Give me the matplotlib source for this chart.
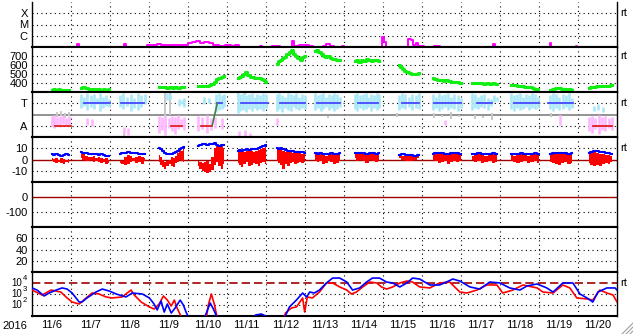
import numpy as np
import matplotlib
matplotlib.use('Agg')
import matplotlib.pyplot as plt
from matplotlib.lines import Line2D

plt.rcParams['font.family'] = ['Liberation Sans', 'DejaVu Sans']

# time axis: days since 11/6 00:00
day_labels = ['11/%d' % d for d in range(6, 21)]

# --- X-ray flux (W/m2), step series
xray_t = [0.0, 1.14, 1.16, 1.2, 2.35, 2.37, 2.4, 2.95, 3.1, 3.2, 3.3, 3.45, 3.6, 3.8, 3.95,
          4.0, 4.1, 4.2, 4.3, 4.4, 4.55, 4.65, 4.8, 4.95, 5.1, 5.2, 5.3, 5.85, 5.9, 6.15,
          6.35, 6.63, 6.67, 6.72, 6.85, 7.1, 7.2, 7.45, 7.55, 7.65, 7.75, 7.95, 8.0, 8.97,
          9.02, 9.07, 9.65, 9.72, 9.78, 9.85, 9.9, 10.05, 10.3, 10.45, 11.82, 11.86, 12.33,
          12.36, 13.28, 13.31, 13.95, 13.98, 15.0]
xray_v = [0.5, 0.5, 1.85, 0.5, 0.5, 1.7, 0.5, 1.5, 1.4, 2.0, 1.6, 1.5, 1.4, 1.5, 1.4,
          2.4, 2.6, 3.2, 2.5, 2.7, 2.2, 1.6, 1.3, 1.5, 1.3, 1.4, 0.5, 1.3, 0.5, 1.2,
          0.5, 0.5, 3.4, 1.3, 1.4, 1.2, 0.5, 1.3, 1.8, 1.2, 0.5, 1.2, 0.5, 7.7,
          3.0, 0.5, 5.1, 4.0, 1.5, 2.2, 1.2, 1.1, 1.15, 0.5, 1.85, 0.5, 1.1,
          0.5, 2.3, 0.5, 1.2, 0.5, 0.5]  # x 1e-7

# --- solar wind speed (km/s), one list per data block
wind_seg = [(0.5, 0.95), (1.26, 1.98), (3.26, 3.9), (4.26, 4.93), (5.27, 6.0), (6.27, 7.0),
            (7.26, 7.89), (8.27, 8.91), (9.4, 9.92), (10.28, 10.99), (11.28, 11.92),
            (12.28, 12.97), (13.28, 13.85), (14.28, 14.87)]
wind_v = [
    [325, 330, 322, 328, 320, 325, 318, 322],
    [348, 352, 345, 335, 330, 332, 328, 330, 326, 329, 325, 330],
    [355, 350, 352, 348, 350, 345, 350, 348, 352, 350],
    [365, 362, 368, 365, 370, 375, 390, 410, 440, 450, 470, 480],
    [460, 470, 480, 500, 520, 490, 470, 465, 460, 450, 455, 445, 430, 415],
    [615, 640, 650, 680, 690, 720, 740, 770, 720, 700, 680, 660, 690, 700],
    [760, 770, 740, 720, 700, 690, 700, 680, 670, 665, 650, 660],
    [640, 650, 630, 660, 640, 670, 650, 640, 660, 650, 640],
    [600, 580, 560, 530, 520, 510, 505, 500, 500, 510],
    [450, 440, 435, 430, 425, 430, 420, 415, 410, 412, 405],
    [405, 400, 395, 400, 392, 398, 390, 395, 388],
    [380, 378, 375, 370, 365, 362, 358, 355, 352, 340, 335, 330],
    [325, 330, 340, 345, 335, 330, 328, 325],
    [340, 350, 360, 365, 370, 362, 368, 372, 375],
]

# --- IMF sector (A=1, T=3): columns (t0, t1, hi, lo)
ta_lightblue = [
    (1.26, 1.98, [3.8, 3.6, 3.9, 3.7, 3.8, 3.5, 3.9, 3.6, 3.7, 3.4], [2.6, 2.8, 2.4, 2.7, 2.5, 2.9, 2.3, 2.6, 2.8, 2.7]),
    (2.25, 2.9, [3.7, 3.9, 3.6, 3.8, 3.5, 3.9, 3.7, 3.8], [2.7, 2.5, 2.8, 2.3, 2.6, 2.4, 2.7, 2.9]),
    (3.47, 3.55, [3.9, 3.8], [3.3, 3.4]),
    (3.78, 3.9, [3.4, 3.3, 3.5], [2.8, 2.9, 2.7]),
    (4.4, 4.55, [3.6, 3.5], [2.9, 3.0]),
    (4.72, 4.93, [3.8, 3.9, 3.7, 3.8], [2.2, 2.4, 2.5, 2.7]),
    (5.27, 6.0, [3.9, 3.8, 3.9, 3.7, 3.8, 3.9, 3.6, 3.8, 3.7, 3.9, 3.8], [2.1, 2.3, 2.4, 2.2, 2.5, 2.3, 2.6, 2.4, 2.5, 2.3, 2.6]),
    (6.27, 7.0, [3.8, 3.9, 3.7, 3.6, 3.9, 3.8, 3.7, 3.9, 3.6, 3.8, 3.7], [2.3, 2.5, 2.2, 2.6, 2.4, 2.3, 2.7, 2.5, 2.4, 2.6, 2.5]),
    (7.26, 7.89, [3.9, 3.7, 3.8, 3.9, 3.6, 3.8, 3.7, 3.9, 3.8, 3.6], [2.4, 2.6, 2.3, 2.5, 2.7, 2.4, 2.6, 2.3, 2.5, 2.7]),
    (8.27, 8.91, [3.8, 3.9, 3.7, 3.8, 3.9, 3.6, 3.8, 3.7, 3.9, 3.8], [2.5, 2.3, 2.6, 2.4, 2.5, 2.7, 2.3, 2.6, 2.4, 2.6]),
    (9.4, 9.92, [3.7, 3.9, 3.8, 3.6, 3.8, 3.7, 3.9], [2.4, 2.6, 2.5, 2.7, 2.4, 2.6, 2.5]),
    (10.28, 10.99, [3.8, 3.6, 3.9, 3.7, 3.8, 3.9, 3.6, 3.8, 3.7, 3.5], [2.4, 2.6, 2.3, 2.5, 2.7, 2.4, 2.6, 2.5, 2.3, 2.6]),
    (11.28, 11.92, [3.9, 3.8, 3.6, 3.7, 3.8, 3.5, 3.4, 3.7, 3.6], [2.4, 2.6, 2.5, 2.7, 2.6, 2.4, 2.8, 3.1, 3.2]),
    (12.28, 12.97, [3.9, 3.7, 3.8, 3.9, 3.6, 3.8, 3.7, 3.9, 3.8, 3.6], [2.5, 2.3, 2.6, 2.4, 2.5, 2.7, 2.4, 2.6, 2.5, 2.6]),
    (13.28, 13.85, [3.7, 3.9, 3.8, 3.6, 3.8, 3.7, 3.9, 3.5], [2.5, 2.3, 2.6, 2.4, 2.5, 2.7, 2.4, 2.6]),
    (14.4, 14.65, [2.8, 2.9, 2.7], [2.3, 2.4, 2.2]),
]
ta_pink = [
    (0.5, 0.95, [1.9, 2.0, 1.8, 1.9, 2.0, 1.7, 1.9], [1.0, 0.8, 1.1, 0.9, 1.2, 1.0, 1.1]),
    (1.4, 1.55, [1.7, 1.6], [1.1, 1.0]),
    (2.35, 2.45, [0.9, 0.8], [0.3, 0.2]),
    (3.26, 3.9, [1.9, 1.8, 2.0, 1.7, 1.9, 1.8, 2.0, 1.6, 1.8], [0.4, 0.6, 0.2, 0.8, 0.5, 0.3, 0.7, 0.9, 0.6]),
    (4.26, 4.7, [1.9, 1.8, 2.0, 1.7, 1.8], [0.5, 0.7, 0.4, 0.6, 0.8]),
    (4.88, 4.93, [1.7], [0.7]),
    (5.3, 5.6, [0.5, 0.6, 0.4], [0.0, 0.1, 0.0]),
    (6.27, 6.32, [1.7], [1.1]),
    (10.6, 10.65, [1.5], [1.1]),
    (13.55, 13.6, [2.0], [1.1]),
    (14.28, 14.87, [1.8, 1.9, 1.7, 2.0, 1.8, 1.9, 1.7, 1.8], [0.5, 0.4, 0.7, 0.3, 0.6, 0.5, 0.8, 0.6]),
]
ta_gray = [
    (0.65, 0.95, [2.2, 2.3, 2.1, 2.2], [1.8, 1.9, 1.7, 1.9]),
    (3.4, 3.55, [4.0, 3.9], [1.8, 2.0]),
    (2.35, 2.4, [0.6], [0.0]),
    (5.27, 5.45, [3.9, 4.0], [3.6, 3.7]),
    (7.6, 7.65, [1.9], [1.7]),
    (9.35, 9.4, [2.1], [1.8]),
    (10.3, 10.95, [2.1, 2.0, 2.2, 2.0], [1.7, 1.8, 1.6, 1.8]),
    (11.35, 11.8, [2.0, 1.9, 2.1], [1.6, 1.7, 1.5]),
    (12.85, 12.9, [3.5], [3.2]),
    (13.3, 13.55, [2.1, 2.0], [1.8, 1.9]),
]
toward_runs = [(1.34, 2.0), (2.29, 2.88), (4.75, 4.88), (5.37, 6.04), (6.37, 7.0), (7.32, 7.89),
               (8.35, 8.86), (9.48, 9.92), (10.3, 10.99), (11.4, 11.79), (12.36, 13.0), (13.23, 13.87)]
away_runs = [(0.59, 1.0), (3.57, 3.85), (4.34, 4.62), (14.38, 14.88)]
switch_t = [4.62, 4.75]
switch_v = [1, 3]

# --- IMF Bt (blue) and Bz range (red), nT
bz_seg = [(0.5, 0.95), (1.26, 1.98), (2.25, 2.9), (3.26, 3.9), (4.26, 4.93), (5.27, 6.0),
          (6.27, 7.0), (7.26, 7.9), (8.27, 8.91), (9.4, 9.92), (10.28, 10.99), (11.28, 11.92),
          (12.28, 13.0), (13.28, 13.85), (14.28, 14.87)]
bt_v = [
    [4.5, 4, 4.5, 4, 3.5, 4, 4.5, 4],
    [6.5, 6, 5.5, 5, 4.5, 5, 4.5, 4, 4.5, 4, 3.5, 3],
    [5, 5.5, 6, 7, 6, 5.5, 6, 5, 4.5, 5],
    [10, 9, 8, 6, 5, 4.5, 5, 6, 7, 8, 9, 10, 11],
    [12, 13, 13.5, 14, 13, 13.5, 14, 14.5, 13, 12, 13, 12.5],
    [8, 8.5, 8, 8.5, 9, 8.5, 9, 9, 9.5, 10, 11, 12, 13],
    [10, 9.5, 10, 9, 8.5, 8, 8, 7.5, 7, 7, 6.5, 6.5, 6],
    [5.5, 5, 5.5, 5, 4.5, 5, 5.5, 5, 5, 5.5],
    [6, 5.5, 6, 5.5, 5, 6, 5.5, 5, 5.5],
    [4, 4.5, 4, 4, 3.5, 4],
    [5, 5.5, 6, 5.5, 5, 5, 5.5, 6, 5.5, 5],
    [4.5, 5, 5.5, 5, 4.5, 5, 5.5, 5],
    [5, 4.5, 5, 5.5, 5, 4.5, 5, 5.5, 5],
    [5, 5.5, 6, 5.5, 6, 5.5, 5, 5.5],
    [6, 7, 8, 7.5, 7, 6.5, 6, 5.5, 5],
]
bz_hi = [
    [1, 0.5, 1, 0, 1, 0.5, 0, 0.5],
    [5, 4.5, 3, 2, 2, 3, 1.5, 2, 1, 0.5, 1, 0],
    [0, -1, 2, 4, 3, 1, 2, 3, 2, 1],
    [4, 2, 0, -2, -1, 0, 2, 1, 3, 6, 10, 8, 9],
    [-1, -2, -3, -2, -1, -4, 2, 10, 13, 11, 12, 10],
    [7, 7.5, 7, 7, 8, 7.5, 8, 7, 8, 8.5, 9, 10, 11],
    [9, 8.5, 9, 8, 7, 7, 6.5, 6, 6, 5.5, 5.5, 5, 5],
    [4.5, 4, 4.5, 4, 3.5, 4, 4.5, 4, 4, 4.5],
    [5, 4.5, 5, 4.5, 4, 5, 4.5, 4, 4.5],
    [3, 3.5, 3, 3, 2.5, 3],
    [4, 4.5, 5, 4.5, 4, 4, 4.5, 5, 4.5, 4],
    [3.5, 4, 4.5, 4, 3.5, 4, 4.5, 4],
    [4, 3.5, 4, 4.5, 4, 3.5, 4, 4.5, 4],
    [4, 4.5, 5, 4.5, 5, 4.5, 4, 4.5],
    [5, 6, 7, 6, 5, 5, 4, 4, 3],
]
bz_lo = [
    [-1, -2, -3, -2, -3, -4, -2, -3],
    [1, 0, -1, -1, -0.5, -2, -1, -2, -3, -2, -4, -3],
    [-3, -4, -5, -4, -2, -1, -3, -2, -4, -1],
    [-2, -5, -7, -8, -6, -4, -6, -7, -3, -2, 0, -1, -2],
    [-6, -8, -10, -11, -12, -11, -9, -5, -2, -6, -8, -4],
    [-3, -5, -7, -4, -2, -6, -5, -3, -4, -6, -3, -2, -4],
    [-1, -3, -5, -8, -4, -6, -3, -2, -4, -3, -2, -3, -2],
    [-1, -2, -1, -4, -3, -1, -2, -4, -3, -1],
    [1, -1, 0, -1.5, -3, 0, -1, -2, 0],
    [1, 0, -1, -1.5, 0, 1],
    [0, -1, -3, -2, -1, -4, -2, -1, -2, -1],
    [0, -2, -1, -3, -2, -1, -3, -2],
    [-1, -2, -3, -2, -1, -3, -2, -1, -3],
    [-2, -3, -4, -5, -3, -2, -4, -3],
    [-3, -5, -6, -5, -6, -4, -3, -4, -2],
]

# --- electron flux, log10
e_blue_t = [0.0, 0.13, 0.31, 0.44, 0.62, 0.77, 0.90, 1.03, 1.21, 1.28, 1.41, 1.64, 1.80, 1.98, 2.16,
            2.41, 2.57, 2.83, 3.01, 3.13, 3.21, 3.31, 3.39, 3.47, 3.57, 3.67, 3.80, 3.88, 3.96, 4.03,
            4.42, 4.50, 4.57, 4.65, 4.73, 4.78, 5.68, 5.73, 5.88, 5.99, 6.04, 6.47, 6.60, 6.78, 6.94,
            7.04, 7.12, 7.24, 7.37, 7.55, 7.71, 7.89, 8.07, 8.22, 8.40, 8.58, 8.73, 8.91, 9.09, 9.25,
            9.43, 9.61, 9.76, 9.94, 10.20, 10.45, 10.63, 10.79, 10.97, 11.23, 11.48, 11.74, 12.00,
            12.25, 12.51, 12.69, 12.95, 13.20, 13.36, 13.61, 13.87, 14.05, 14.23, 14.38, 14.51, 14.74,
            14.95, 15.0]
e_blue_log = [3.55, 3.36, 2.82, 3.09, 3.36, 3.55, 3.45, 3.09, 2.27, 2.27, 2.64, 3.18, 3.45, 3.27, 3.0,
              2.73, 3.09, 3.0, 2.64, 2.09, 1.55, 2.36, 1.36, 2.09, 1.27, 1.73, 2.45, 2.0, 1.27, 0.8,
              0.8, 1.55, 2.18, 1.64, 1.0, 0.8, 0.8, 1.09, 1.18, 1.0, 0.8, 0.8, 1.82, 2.45, 3.09,
              2.73, 3.18, 3.09, 3.36, 4.0, 4.45, 4.45, 4.09, 3.36, 3.55, 4.09, 4.45, 4.45, 4.09, 4.0,
              3.64, 4.0, 4.45, 4.36, 3.82, 3.82, 4.09, 4.36, 4.18, 3.64, 3.45, 4.09, 4.0,
              3.55, 3.36, 3.73, 3.91, 3.55, 3.18, 4.0, 4.0, 3.0, 2.64, 2.27, 3.18, 3.55,
              3.55, 3.36]
e_red_t = [0.0, 0.26, 0.49, 0.74, 0.90, 1.03, 1.21, 1.39, 1.54, 1.72, 1.90, 2.05, 2.31, 2.54, 2.62,
           2.80, 3.01, 3.13, 3.26, 3.37, 3.47, 3.57, 3.65, 3.72, 3.83, 4.47, 4.52, 4.60, 4.68, 4.75,
           6.45, 6.50, 6.65, 6.78, 6.94, 6.99, 7.06, 7.19, 7.37, 7.55, 7.71, 7.89, 8.07, 8.19, 8.32,
           8.48, 8.66, 8.84, 8.96, 9.09, 9.25, 9.43, 9.61, 9.76, 9.94, 10.20, 10.45, 10.71, 10.97,
           11.15, 11.41, 11.66, 11.92, 12.07, 12.33, 12.59, 12.95, 13.10, 13.36, 13.61, 13.79, 13.97,
           14.23, 14.38, 14.56, 14.74, 14.90, 15.0]
e_red_log = [3.36, 2.91, 3.36, 3.18, 2.64, 2.27, 2.09, 2.64, 3.09, 3.0, 2.73, 2.64, 2.73, 3.36, 2.91,
             2.27, 1.82, 1.64, 2.09, 2.82, 2.45, 1.91, 2.45, 1.73, 0.9, 0.8, 2.0, 3.0, 2.0, 0.8,
             0.8, 1.27, 1.73, 1.82, 2.64, 1.36, 2.73, 2.64, 3.18, 4.0, 4.0, 3.64, 3.36, 3.0, 3.18,
             3.64, 4.09, 4.0, 3.64, 3.45, 3.64, 4.0, 4.18, 4.09, 3.64, 3.55, 4.0, 4.09, 3.18,
             3.09, 3.36, 3.82, 3.82, 3.09, 3.36, 3.82, 3.55, 3.18, 3.09, 3.82, 3.55, 2.64,
             2.55, 2.45, 3.36, 3.09, 2.91, 2.27]
e_ticks = [1e2, 1e3, 1e4]
e_exps = ['2', '3', '4']

W, H = 633, 334
fig = plt.figure(figsize=(W / 100, H / 100), dpi=100)
edges = [2, 47, 92, 137, 182, 227, 272, 316]
dot = (0, (1, 3))

axes = []
for i in range(7):
    top, bot = edges[i], edges[i + 1]
    ax = fig.add_axes([32 / W, 1 - bot / H, 585 / W, (bot - top) / H])
    ax.set_xlim(0, 15)
    ax.set_xticks([])
    for d in range(1, 15):
        ax.axvline(d, color='k', ls=dot, lw=0.8, zorder=1)
    for s in ['left', 'right']:
        ax.spines[s].set_linewidth(1)
    for s in ['top', 'bottom']:
        ax.spines[s].set_linewidth(1.5)
    ax.tick_params(axis='y', length=0, pad=3, labelsize=8)
    axes.append(ax)
axes[0].spines['top'].set_visible(False)


def hgrid(ax, vals):
    for v in vals:
        ax.axhline(v, color='k', ls=dot, lw=0.8, zorder=1)


def columns(ax, runs, color, lw=1.9):
    for t0, t1, hi, lo in runs:
        ax.vlines(np.linspace(t0, t1, len(hi)), lo, hi, color=color, lw=lw, zorder=2)


# panel 1: X-ray
ax = axes[0]
ax.set_yscale('log')
ax.set_ylim(1e-7, 1e-3)
ax.set_yticks([1e-6, 1e-5, 1e-4], ['C', 'M', 'X'])
ax.minorticks_off()
hgrid(ax, [1e-6, 1e-5, 1e-4])
ax.step(xray_t, np.array(xray_v) * 1e-7, where='post', color='#ff00ff', lw=1.4, zorder=3)

# panel 2: wind speed
ax = axes[1]
ax.set_ylim(300, 800)
ax.set_yticks([400, 500, 600, 700], ['400', '500', '600', '700'])
hgrid(ax, [400, 500, 600, 700])
for (t0, t1), v in zip(wind_seg, wind_v):
    ax.plot(np.linspace(t0, t1, len(v)), v, color='#11ee11', lw=2.2, drawstyle='steps-mid', zorder=3)

# panel 3: sector
ax = axes[2]
ax.set_ylim(0, 4)
ax.set_yticks([1, 3], ['A', 'T'])
hgrid(ax, [1, 3])
ax.axhline(2, color='#808080', lw=1.2, zorder=1)
columns(ax, ta_gray, '#c8c8c8', lw=1.4)
columns(ax, ta_pink, '#ffb8ff')
columns(ax, ta_lightblue, '#aae8f8')
for t0, t1 in toward_runs:
    ax.plot([t0, t1], [3, 3], color='#4848ff', lw=1.3, zorder=4)
for t0, t1 in away_runs:
    ax.plot([t0, t1], [1, 1], color='#e02020', lw=1.3, zorder=4)
ax.plot(switch_t, switch_v, color='#408040', lw=1.2, zorder=4)

# panel 4: IMF
ax = axes[3]
ax.set_ylim(-20, 20)
ax.set_yticks([-10, 0, 10], ['-10', '0', '10'])
hgrid(ax, [-10, 10])
ax.axhline(0, color='#a00000', lw=1, zorder=1)
for (t0, t1), bt, hi, lo in zip(bz_seg, bt_v, bz_hi, bz_lo):
    t = np.linspace(t0, t1, len(bt))
    ax.fill_between(t, lo, hi, step='mid', color='#ff0000', lw=0, zorder=2)
    ax.plot(t, bt, color='#0000ff', lw=1.5, drawstyle='steps-mid', zorder=3)

# panel 5: Dst (no data)
ax = axes[4]
ax.set_ylim(-200, 100)
ax.set_yticks([-100, 0], ['-100', '0'])
hgrid(ax, [-100])
ax.axhline(0, color='#a00000', lw=1, zorder=1)

# panel 6: (no data)
ax = axes[5]
ax.set_ylim(0, 80)
ax.set_yticks([20, 40, 60], ['20', '40', '60'])
hgrid(ax, [20, 40, 60])

# panel 7: electrons
ax = axes[6]
ax.set_yscale('log')
ax.set_ylim(1e1, 1e5)
ax.set_yticks([])
ax.minorticks_off()
for v, e in zip(e_ticks, e_exps):
    ax.annotate('10', xy=(0, v), xycoords=('axes fraction', 'data'), xytext=(-7, -0.3),
                textcoords='offset points', ha='right', va='center', fontsize=7)
    ax.annotate(e, xy=(0, v), xycoords=('axes fraction', 'data'), xytext=(-6.8, 3.2),
                textcoords='offset points', ha='left', va='center', fontsize=5.5)
hgrid(ax, [1e2, 1e3])
ax.axhline(1e4, color='#a00000', ls=(0, (5, 2.4)), lw=1.2, zorder=1)
ax.plot(e_red_t, 10 ** np.array(e_red_log), color='#ff0000', lw=1.2, zorder=3)
ax.plot(e_blue_t, 10 ** np.array(e_blue_log), color='#0000ff', lw=1.2, zorder=4)
ax.set_xticks(np.arange(15) + 0.5, day_labels)
ax.tick_params(axis='x', length=0, pad=3, labelsize=8)

fig.text(15 / W, 1 - 326 / H, '2016', ha='center', va='center', fontsize=8)
for y in [13, 56, 103, 148, 283]:
    fig.text(620 / W, 1 - y / H, 'rt', ha='left', va='center', fontsize=8)

# window resize grip
for a, b in [(622, 323), (626, 327), (630, 331)]:
    fig.add_artist(Line2D([a / W, 633 / W], [0, 1 - b / H], color='#a0a0a0', lw=0.8,
                          transform=fig.transFigure))

fig.savefig('out.png', dpi=100)
